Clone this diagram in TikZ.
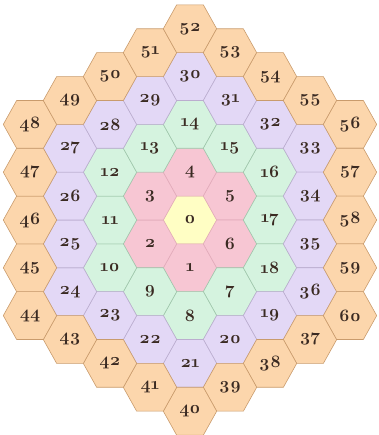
\documentclass[tikz,border=0pt]{standalone}
\usepackage{fontspec}
\setmainfont{Latin Modern Roman}[Numbers=OldStyle]
\definecolor{Yf}{HTML}{FFFEC4}\definecolor{Yd}{HTML}{EDE3A0}
\definecolor{Pf}{HTML}{F7C6D3}\definecolor{Pd}{HTML}{E2ABBA}
\definecolor{Gf}{HTML}{D5F3DF}\definecolor{Gd}{HTML}{9FC6AB}
\definecolor{Lf}{HTML}{E3D8F6}\definecolor{Ld}{HTML}{BBADCF}
\definecolor{Of}{HTML}{FCD6AC}\definecolor{Od}{HTML}{C99B6C}
\definecolor{Tx}{HTML}{3A2A22}
\begin{document}
\begin{tikzpicture}[x=1pt,y=1pt,
  cell/.style={line width=0.6pt,line join=round},
  r0/.style={cell,fill=Yf,draw=Yd},
  r1/.style={cell,fill=Pf,draw=Pd},
  r2/.style={cell,fill=Gf,draw=Gd},
  r3/.style={cell,fill=Lf,draw=Ld},
  r4/.style={cell,fill=Of,draw=Od},
  lbl/.style={text=Tx,font=\fontsize{17.5}{17.5}\selectfont\bfseries,inner sep=0pt}]
\useasboundingbox (0,0) rectangle (378,435);
\foreach \n/\q/\h/\r in {
  0/0/0/0,
  1/0/-2/1, 2/-1/-1/1, 3/-1/1/1, 4/0/2/1, 5/1/1/1, 6/1/-1/1,
  7/1/-3/2, 8/0/-4/2, 9/-1/-3/2, 10/-2/-2/2, 11/-2/0/2, 12/-2/2/2,
  13/-1/3/2, 14/0/4/2, 15/1/3/2, 16/2/2/2, 17/2/0/2, 18/2/-2/2,
  19/2/-4/3, 20/1/-5/3, 21/0/-6/3, 22/-1/-5/3, 23/-2/-4/3, 24/-3/-3/3,
  25/-3/-1/3, 26/-3/1/3, 27/-3/3/3, 28/-2/4/3, 29/-1/5/3, 30/0/6/3,
  31/1/5/3, 32/2/4/3, 33/3/3/3, 34/3/1/3, 35/3/-1/3, 36/3/-3/3,
  37/3/-5/4, 38/2/-6/4, 39/1/-7/4, 40/0/-8/4, 41/-1/-7/4, 42/-2/-6/4,
  43/-3/-5/4, 44/-4/-4/4, 45/-4/-2/4, 46/-4/0/4, 47/-4/2/4, 48/-4/4/4,
  49/-3/5/4, 50/-2/6/4, 51/-1/7/4, 52/0/8/4, 53/1/7/4, 54/2/6/4,
  55/3/5/4, 56/4/4/4, 57/4/2/4, 58/4/0/4, 59/4/-2/4, 60/4/-4/4}{
  \draw[r\r] (190+40*\q+26.7,215+23.9*\h) -- ++(-13.35,23.9) -- ++(-26.7,0)
     -- ++(-13.35,-23.9) -- ++(13.35,-23.9) -- ++(26.7,0) -- cycle;
  \node[lbl] (c\n) at (190+40*\q,215+23.9*\h) {\n};
}
\end{tikzpicture}
\end{document}
